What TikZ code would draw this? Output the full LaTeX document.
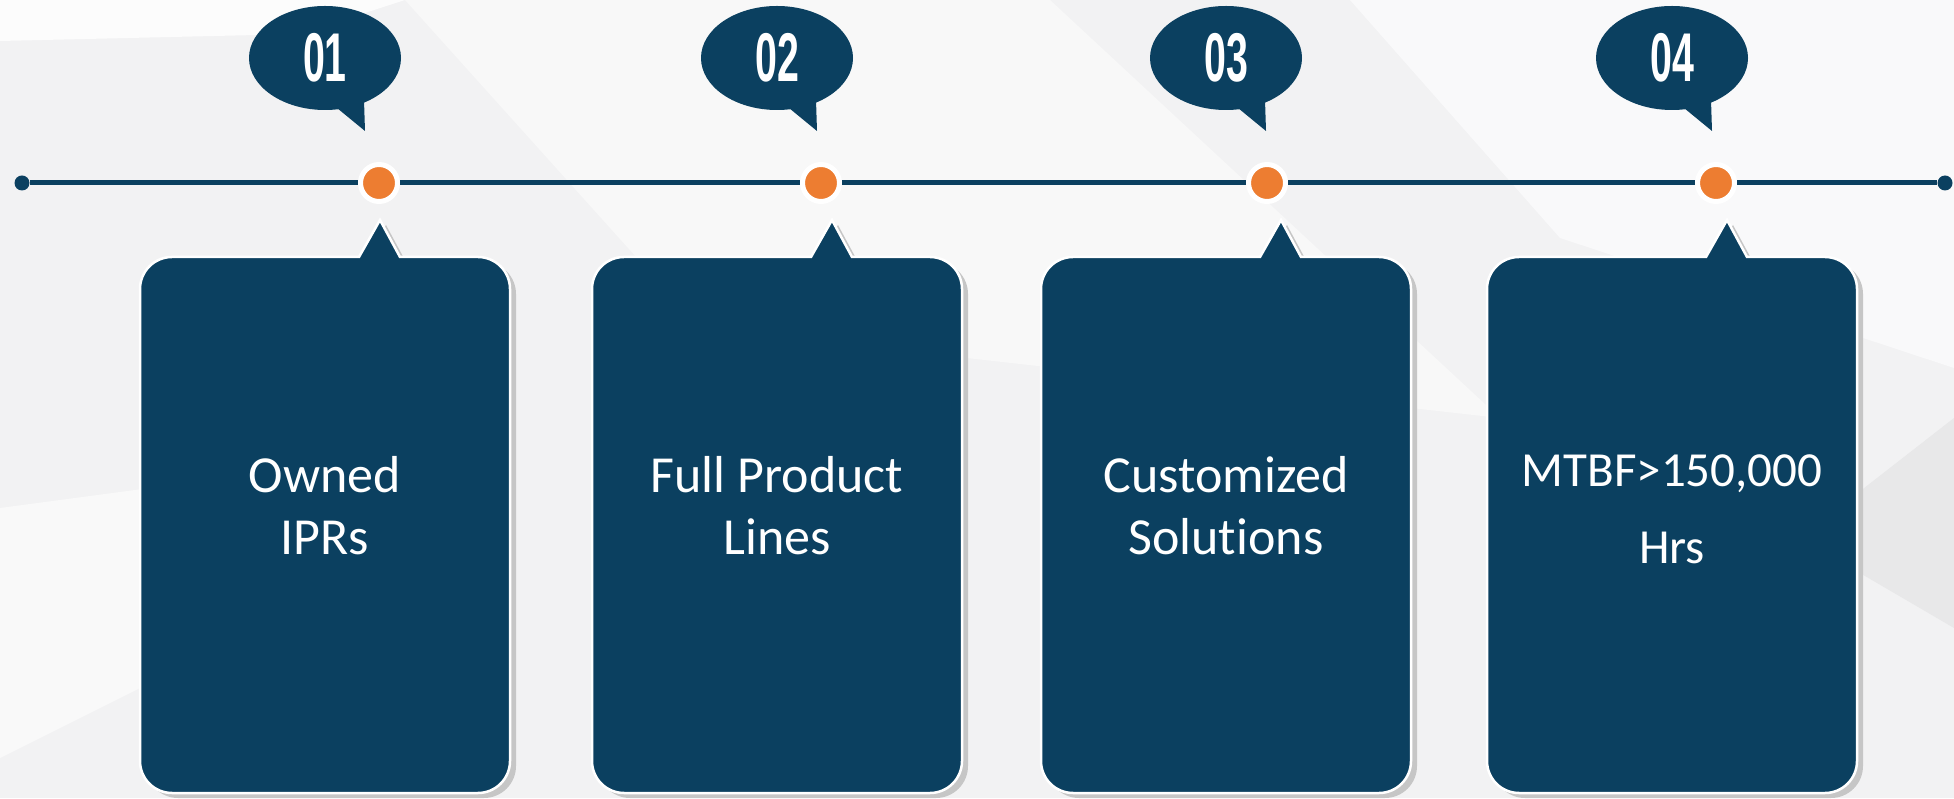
\documentclass[tikz,border=0pt]{standalone}
\usepackage{fontspec}
\usepackage{graphicx}
\setmainfont{Carlito}[Ligatures=NoCommon]
\newfontfamily\cardfont{Carlito}[Ligatures=NoCommon]
\newfontfamily\numfont{Liberation Sans}
\definecolor{navy}{RGB}{11,64,96}
\definecolor{dotorange}{RGB}{237,125,49}
\definecolor{bggray}{RGB}{242,242,243}
\definecolor{shadowgray}{RGB}{198,198,198}

\begin{document}
\begin{tikzpicture}[x=1pt, y=1pt,
cardshape/.style={insert path={(55,578) -- (75,541) -- (153,541) arc[start angle=90, end angle=0, radius=32] -- (185,37) arc[start angle=0, end angle=-90, radius=32] -- (-153,5) arc[start angle=270, end angle=180, radius=32] -- (-185,509) arc[start angle=180, end angle=90, radius=32] -- (34,541) -- cycle}},
card/.pic={
\path[fill=shadowgray, shift={(6,-5)}, cardshape];
\path[fill=navy, draw=white, line width=2.5, cardshape];
},
bubble/.pic={
\fill[navy] (0,740) ellipse[x radius=76, y radius=52];
\fill[navy] (12,690) -- (40,667) -- (39,698) -- cycle;
},
num/.style={text=white, inner sep=0, font=\numfont\bfseries\fontsize{69}{69}\selectfont},
dot/.style={circle, fill=dotorange, draw=white, line width=5, minimum size=37, inner sep=0},
enddot/.style={circle, fill=navy, minimum size=15, inner sep=0},
cardtext/.style={text=white, align=center, inner sep=0, font=\cardfont\fontsize{52}{62}\selectfont}]

% background
\fill[bggray] (0,0) rectangle (1954,798);
\fill[white!75!bggray] (0,798) -- (405,798) -- (300,764) -- (0,757) -- cycle;
\fill[white!45!bggray] (405,798) -- (1050,798) -- (1500,380) -- (700,470) -- cycle;
\fill[white!55!bggray] (1350,798) -- (1954,798) -- (1954,430) -- (1560,560) -- cycle;
\fill[white!50!bggray] (0,290) -- (300,330) -- (140,110) -- (0,40) -- cycle;
\fill[black!4!bggray] (1954,380) -- (1954,170) -- (1800,260) -- cycle;
\useasboundingbox (0,0) rectangle (1954,798);

% speech bubbles
\pic at (325,0) {bubble};
\pic at (777,0) {bubble};
\pic at (1226,0) {bubble};
\pic at (1672,0) {bubble};
\node[num] (n1) at (325,740) {\scalebox{0.57}[1]{01}};
\node[num] (n2) at (777,740) {\scalebox{0.57}[1]{02}};
\node[num] (n3) at (1226,740) {\scalebox{0.57}[1]{03}};
\node[num] (n4) at (1672,740) {\scalebox{0.57}[1]{04}};

% timeline
\node[enddot] (e0) at (22,615) {};
\node[enddot] (e5) at (1945,615) {};
\node[dot] (d1) at (379,615) {};
\node[dot] (d2) at (821,615) {};
\node[dot] (d3) at (1267,615) {};
\node[dot] (d4) at (1716,615) {};
\draw[navy, line width=5] (e0) -- (d1) (d1) -- (d2) (d2) -- (d3) (d3) -- (d4) (d4) -- (e5);

% cards
\pic at (325,0) {card};
\pic at (777,0) {card};
\pic at (1226,0) {card};
\pic at (1672,0) {card};
\node[cardtext] (t1) at (325,292) {Owned\\IPRs};
\node[cardtext] (t2) at (777,292) {Full Product\\Lines};
\node[cardtext] (t3) at (1226,292) {Customized\\Solutions};
\node[cardtext, font=\fontsize{49}{77}\selectfont] (t4) at (1672,289) {MTBF>150,000\\Hrs};
\end{tikzpicture}
\end{document}
